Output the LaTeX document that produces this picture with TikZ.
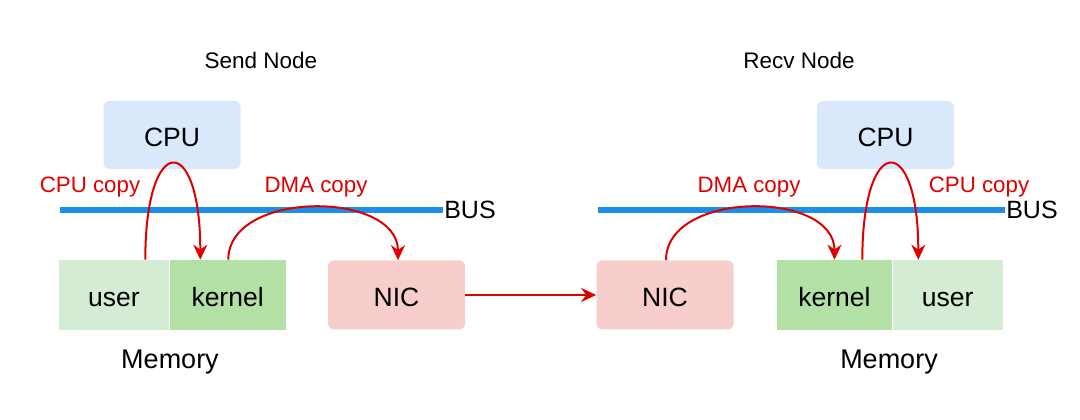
\documentclass[tikz,border=0pt]{standalone}
\usepackage{fontspec}
\setmainfont{Liberation Sans}
\usetikzlibrary{positioning,arrows.meta}

\definecolor{cpufill}{HTML}{DAE8FC}
\definecolor{nicfill}{HTML}{F8CECC}
\definecolor{kernfill}{HTML}{B3E0A4}
\definecolor{userfill}{HTML}{D5ECD4}
\definecolor{busblue}{HTML}{1A8FEA}
\definecolor{copyred}{HTML}{DD0000}

\begin{document}
\begin{tikzpicture}[x=1pt, y=1pt, semithick,
	box/.style ={rounded corners=6pt, inner sep=0pt, text height=23pt, text depth=0pt, font=\fontsize{26.5}{26.5}\selectfont},
	cpu/.style ={box, fill=cpufill, minimum width=137pt, minimum height=68pt},
	nic/.style ={box, fill=nicfill, minimum width=137pt, minimum height=69pt},
	mem/.style ={inner sep=0pt, minimum height=70pt, text height=23pt, text depth=0pt, font=\fontsize{26.5}{26.5}\selectfont},
	bus/.style ={busblue, line width=6pt},
	copy/.style ={-{Stealth[length=15pt, width=14pt]}, copyred, line width=2pt},
	lbl/.style ={text=copyred, font=\fontsize{22.3}{22.3}\selectfont}]
	\useasboundingbox (0,0) rectangle (1080,420);

	% send node
	\node (stitle) at (261,360) {\fontsize{22.5}{22.5}\selectfont Send Node};
	\node[cpu] (scpu) at (172,285) {CPU};
	\node[mem, fill=userfill, minimum width=110pt] (suser) at (114,125) {user};
	\node[mem, fill=kernfill, minimum width=116pt, right=0pt of suser] (skern) {kernel};
	\node[nic] (snic) at (396.5,125) {NIC};
	\node (smem) at (170,58) {\fontsize{27}{27}\selectfont Memory};
	\coordinate (sbusl) at (60,210);
	\coordinate (sbusr) at (443,210);
	\draw[bus] (sbusl) -- (sbusr);
	\node[anchor=west, inner sep=1pt, font=\fontsize{25}{25}\selectfont] (sbus) at (sbusr) {BUS};

	% recv node
	\node (rtitle) at (799,360) {\fontsize{22.5}{22.5}\selectfont Recv Node};
	\node[cpu] (rcpu) at (885.5,285) {CPU};
	\node[mem, fill=kernfill, minimum width=115pt] (rkern) at (834.5,125) {kernel};
	\node[mem, fill=userfill, minimum width=110pt, right=0pt of rkern] (ruser) {user};
	\node[nic] (rnic) at (665,125) {NIC};
	\node (rmem) at (889,58) {\fontsize{27}{27}\selectfont Memory};
	\coordinate (rbusl) at (598,210);
	\coordinate (rbusr) at (1005,210);
	\draw[bus] (rbusl) -- (rbusr);
	\node[anchor=west, inner sep=1pt, font=\fontsize{25}{25}\selectfont] (rbus) at (rbusr) {BUS};

	% copies
	\draw[copy] ([xshift=-24pt]suser.north east) .. controls +(0,128) and +(0,128) .. ([xshift=31pt]skern.north west);
	\draw[copy] ([xshift=59pt]skern.north west) .. controls +(0,70) and +(0,70) .. ([xshift=1.5pt]snic.north);
	\draw[copy] (snic.east) -- (rnic.west);
	\draw[copy] ([xshift=1pt]rnic.north) .. controls +(0,70) and +(0,70) .. (rkern.north);
	\draw[copy] ([xshift=-30pt]rkern.north east) .. controls +(0,128) and +(0,128) .. ([xshift=26pt]ruser.north west);

	\node[lbl] (scpucp) at (90,233) {CPU copy};
	\node[lbl] (sdmacp) at (316,233) {DMA copy};
	\node[lbl] (rdmacp) at (749,233) {DMA copy};
	\node[lbl] (rcpucp) at (979,233) {CPU copy};
\end{tikzpicture}
\end{document}
